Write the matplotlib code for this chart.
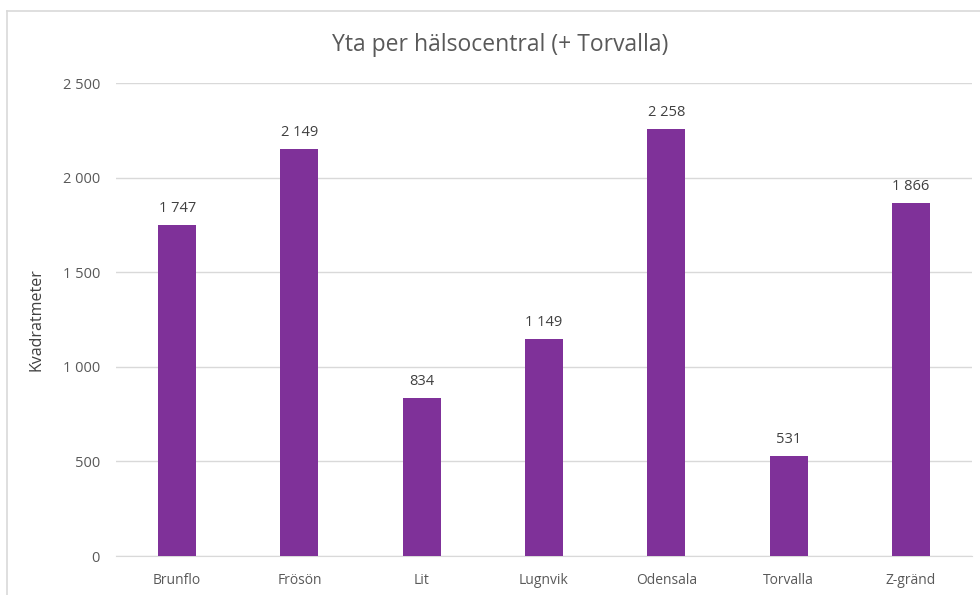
import matplotlib
matplotlib.use("Agg")
import matplotlib.pyplot as plt
from matplotlib.lines import Line2D
from matplotlib.ticker import FuncFormatter

categories = ["Brunflo", "Frösön", "Lit", "Lugnvik", "Odensala", "Torvalla", "Z-gränd"]
values = [1747, 2149, 834, 1149, 2258, 531, 1866]
yticks = [0, 500, 1000, 1500, 2000, 2500]

plt.rcParams['font.family'] = ['Open Sans', 'DejaVu Sans']
txt = '#595959'

def fmt(v):
    return f"{int(v):,}".replace(",", " ")

fig = plt.figure(figsize=(9.8, 5.95), dpi=100)
ax = fig.add_axes([116/980, 1-556/595, (972-116)/980, (556-83)/595])

x = list(range(len(categories)))
bars = ax.bar(x, values, width=0.31, color='#7F3199', zorder=3)
for xi, v in zip(x, values):
    ax.annotate(fmt(v), (xi, v), xytext=(0, 6.5), textcoords='offset points',
                ha='center', va='bottom', fontsize=10.5, color='#404040')

ax.set_xlim(-0.5, len(categories) - 0.5)
ax.set_ylim(0, 2500)
ax.set_yticks(yticks)
ax.yaxis.set_major_formatter(FuncFormatter(lambda v, p: fmt(v)))
ax.set_xticks(x)
ax.set_xticklabels(categories)
ax.grid(axis='y', color='#D9D9D9', linewidth=1, zorder=0)
for s in ['top', 'right', 'left']:
    ax.spines[s].set_visible(False)
ax.spines['bottom'].set_color('#D9D9D9')
ax.tick_params(axis='both', length=0, colors=txt)
ax.tick_params(axis='y', pad=11.5, labelsize=10.5)
ax.tick_params(axis='x', pad=12, labelsize=10)
ax.set_ylabel("Kvadratmeter", color='#404040', fontsize=11.5)
ax.yaxis.set_label_coords(-0.083, 0.5)

fig.text(500/980, 1-45/595, "Yta per hälsocentral (+ Torvalla)", ha='center', va='center',
         fontsize=16.5, color=txt)

# outer chart border (top and left visible)
fig.add_artist(Line2D([7/980, 1], [1-11/595, 1-11/595], transform=fig.transFigure,
                      color='#D9D9D9', linewidth=1.2))
fig.add_artist(Line2D([7/980, 7/980], [0, 1-11/595], transform=fig.transFigure,
                      color='#D9D9D9', linewidth=1.2))

fig.savefig("out.png", dpi=100)
